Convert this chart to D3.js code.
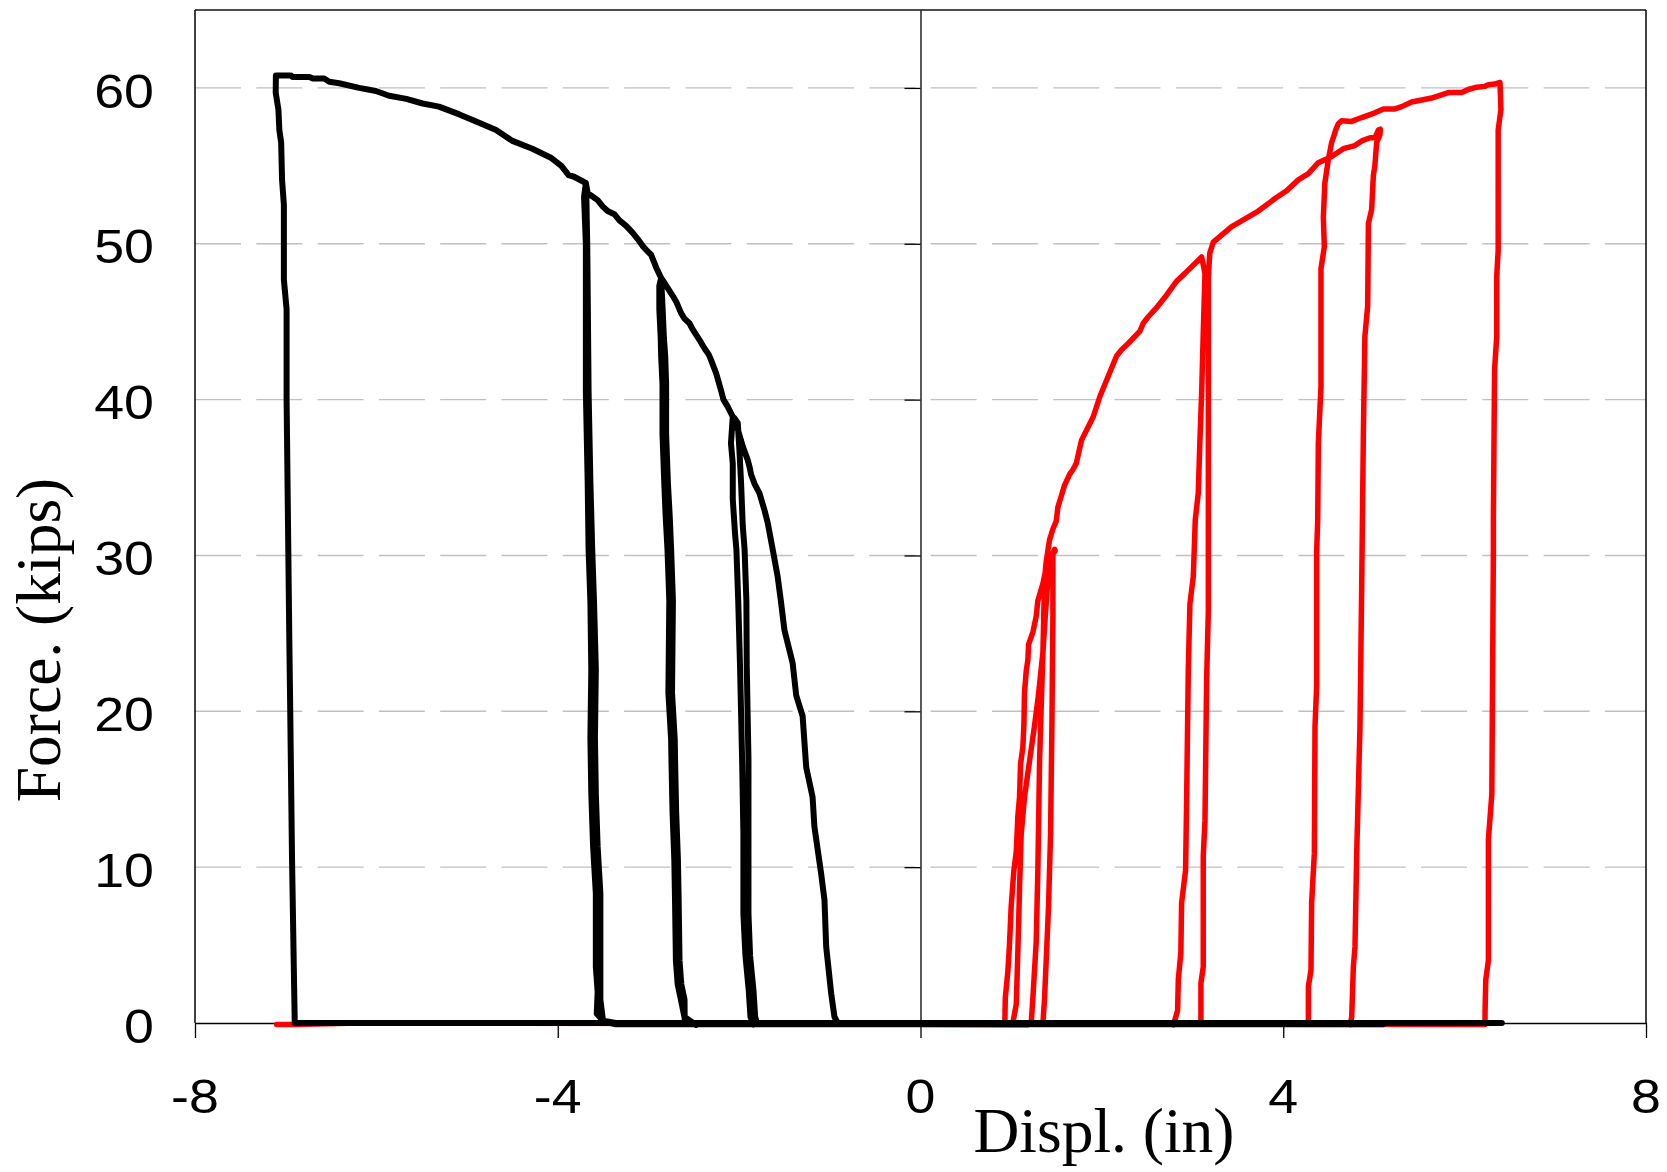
<!DOCTYPE html>
<html><head><meta charset="utf-8">
<script src="https://cdn.jsdelivr.net/npm/d3@7"></script>
<style>html,body{margin:0;padding:0;background:#fff;} svg{display:block}</style>
</head><body><svg id="chart" width="1667" height="1172"></svg>
<script>
// ---------- tick values ----------
const xTicks = [-8, -4, 0, 4, 8];
const yTicks = [0, 10, 20, 30, 40, 50, 60];
const gridValues = [10, 20, 30, 40, 50, 60];
const xTitle = "Displ. (in)";
const yTitle = "Force. (kips)";

// ---------- black series (negative direction) [displ, force] ----------
const blackLoadToA = [[-0.912,0],[-0.949,0.4],[-0.985,1.9],[-1.04,4.9],[-1.059,7.9],[-1.096,9.6],[-1.17,12.6],[-1.19,14.5],[-1.26,16.4],[-1.30,19.7],[-1.37,21.0],[-1.41,23.1],[-1.50,25.2],[-1.54,27.1],[-1.574,28.6],[-1.63,30.4],[-1.685,32.1],[-1.72,32.9],[-1.776,34.0],[-1.83,34.6],[-1.868,35.2],[-1.886,35.7],[-1.904,36.1],[-1.96,37.0],[-2.015,38.1],[-2.05,38.6],[-2.07,38.9]];
const blackUnloadA = [[-2.09,37.2],[-2.07,35.9],[-2.07,33.6],[-2.045,31.4],[-2.03,30.4],[-2.01,27.1],[-1.99,22.9],[-1.967,16.9],[-1.953,12.2],[-1.953,7.0],[-1.93,4.3],[-1.894,2.1],[-1.875,0.4],[-1.84,-0.1],[-1.80,0]];
const blackZeroA = [[1.50,0],[1.50,-0.08],[-1.80,-0.08]];
const blackReloadA = [[-1.823,0.4],[-1.842,2.1],[-1.879,4.3],[-1.897,7.0],[-1.897,12.2],[-1.897,16.9],[-1.916,22.9],[-1.92,27.1],[-1.94,30.4],[-1.96,31.9],[-1.978,34.6],[-1.997,36.8],[-2.015,38.5],[-2.05,38.8]];
const blackAtoB = [[-2.07,38.9],[-2.126,39.55],[-2.173,40.0],[-2.2,40.6],[-2.254,41.7],[-2.31,42.55],[-2.336,42.9],[-2.383,43.3],[-2.438,43.84],[-2.512,44.5],[-2.548,44.9],[-2.603,45.2],[-2.64,45.55],[-2.695,46.3],[-2.732,46.66],[-2.787,47.16],[-2.824,47.5],[-2.86,47.8]];
const blackUnloadB = [[-2.88,47.3],[-2.88,45.8],[-2.865,44.0],[-2.86,42.8],[-2.845,41.0],[-2.845,37.8],[-2.825,34.6],[-2.81,32.5],[-2.79,30.4],[-2.77,27.1],[-2.78,21.2],[-2.75,18.2],[-2.745,16.5],[-2.734,13.5],[-2.715,10.5],[-2.708,8.3],[-2.697,4.0],[-2.678,2.5],[-2.642,1.5],[-2.604,0.4],[-2.474,-0.13],[-2.44,0]];
const blackZeroB = [[3.2,0],[3.2,-0.08],[-2.60,-0.08]];
const blackReloadB = [[-2.60,0],[-2.602,1.5],[-2.638,2.5],[-2.657,4.0],[-2.668,8.3],[-2.675,10.5],[-2.694,13.5],[-2.705,16.5],[-2.71,18.2],[-2.74,21.2],[-2.73,27.1],[-2.75,30.4],[-2.765,32.5],[-2.785,34.6],[-2.805,37.8],[-2.805,41.0],[-2.815,42.8],[-2.83,44.0],[-2.845,46.0],[-2.86,47.8]];
const blackBtoC = [[-2.916,48.5],[-2.971,49.3],[-3.008,49.5],[-3.055,49.8],[-3.118,50.3],[-3.173,50.7],[-3.246,51.15],[-3.32,51.5],[-3.376,51.9],[-3.45,52.1],[-3.505,52.4],[-3.56,52.8],[-3.633,53.1],[-3.67,53.25],[-3.69,53.9]];
const blackUnloadC = [[-3.71,53.0],[-3.70,51.5],[-3.69,50.0],[-3.69,47.1],[-3.69,40.5],[-3.67,34.7],[-3.66,30.4],[-3.64,27.0],[-3.63,22.7],[-3.64,18.3],[-3.63,14.7],[-3.61,11.3],[-3.58,8.3],[-3.58,3.6],[-3.56,2.0],[-3.57,0.6],[-3.50,0.15],[-3.36,0]];
const blackZeroC = [[5.1,0],[5.1,-0.08],[-3.36,-0.08]];
const blackReloadC = [[-3.50,0.1],[-3.53,1.5],[-3.53,3.6],[-3.53,8.3],[-3.56,11.3],[-3.58,14.7],[-3.59,18.3],[-3.58,22.7],[-3.60,27.0],[-3.62,30.4],[-3.64,34.7],[-3.66,40.5],[-3.67,47.1],[-3.675,50.0],[-3.68,51.5],[-3.685,53.3],[-3.69,53.9]];
const blackCtoD = [[-3.82,54.3],[-3.88,54.4],[-3.96,55.0],[-4.07,55.5],[-4.28,56.1],[-4.50,56.6],[-4.68,57.3],[-4.90,57.85],[-5.085,58.3],[-5.31,58.8],[-5.49,59.0],[-5.67,59.3],[-5.86,59.5],[-6.005,59.8],[-6.19,60.0],[-6.41,60.3],[-6.52,60.4],[-6.575,60.6],[-6.70,60.6],[-6.74,60.7],[-6.924,60.7],[-6.942,60.8],[-7.108,60.8]];
const blackUnloadD = [[-7.11,59.7],[-7.08,58.6],[-7.07,57.3],[-7.05,56.5],[-7.04,54.1],[-7.02,52.5],[-7.02,47.7],[-6.99,45.8],[-6.99,40.0],[-6.98,34.9],[-6.96,24.6],[-6.95,20.1],[-6.93,10.5],[-6.91,3.4],[-6.90,0]];
const blackZeroEnd = [[6.41,0]];

// ---------- red series (positive direction) [displ, force] ----------
const redLoad1 = [[1.018,0],[1.056,1.2],[1.074,4.7],[1.092,8.6],[1.11,12.1],[1.147,14.5],[1.202,16.8],[1.258,19.1],[1.30,21.0],[1.35,23.8],[1.376,26.1],[1.405,28.5],[1.442,29.9],[1.478,30.4]];
const redUnload1 = [[1.485,30.3],[1.46,30.1],[1.46,26.1],[1.449,19.1],[1.434,12.1],[1.412,7.5],[1.386,4.0],[1.368,1.6],[1.35,0]];
const redZero1 = [[-1.8,0],[0.93,0]];
const redLoad2 = [[0.935,1.6],[0.963,3.3],[0.982,5.1],[1.0,7.5],[1.03,9.8],[1.056,11.0],[1.074,13.3],[1.092,14.5],[1.103,16.6],[1.129,17.7],[1.14,19.1],[1.147,21.2],[1.166,22.6],[1.184,23.3],[1.192,24.3],[1.24,25.1],[1.276,26.1],[1.294,27.1],[1.35,28.2],[1.375,28.9],[1.386,29.6]];
const redUnload2 = [[1.368,28.5],[1.35,23.8],[1.331,20.3],[1.313,16.8],[1.294,9.8],[1.276,5.2],[1.239,1.6],[1.221,0],[1.18,-0.12]];
const redZero2 = [[-2.6,0],[1.221,0]];
const redReload2 = [[1.239,1.6],[1.276,5.2],[1.294,9.8],[1.313,16.8],[1.331,20.3],[1.35,23.8],[1.368,28.5],[1.386,29.6]];
const redToPeak2 = [[1.423,31.0],[1.46,31.7],[1.497,32.2],[1.515,33.1],[1.552,33.8],[1.588,34.5],[1.644,35.2],[1.68,35.5],[1.717,35.9],[1.776,37.4],[1.905,38.9],[1.978,40.2],[2.07,41.5],[2.162,42.8],[2.217,43.2],[2.29,43.6],[2.42,44.4],[2.456,44.9],[2.51,45.3],[2.603,45.9],[2.713,46.7],[2.824,47.6],[2.916,48.1],[3.10,49.15]];
const redUnloadPeak2 = [[3.137,48.1],[3.118,44.3],[3.10,40.4],[3.08,37.2],[3.063,34.0],[3.03,32.3],[3.008,28.65],[2.971,26.9],[2.953,22.7],[2.934,14.1],[2.923,9.8],[2.879,7.7],[2.871,4.5],[2.843,2.8],[2.835,0.8],[2.79,-0.12],[2.80,0]];
const redZero3 = [[-2.7,0],[3.092,0]];
const redReload3 = [[3.092,0.6],[3.092,2.55],[3.118,3.6],[3.118,10.7],[3.137,13.0],[3.155,22.0],[3.174,26.5],[3.174,32.3],[3.174,47.9],[3.19,49.4],[3.229,50.1]];
const redToPeak3 = [[3.431,51.1],[3.522,51.4],[3.725,52.1],[3.909,52.9],[4.037,53.4],[4.166,54.1],[4.277,54.5],[4.387,55.2],[4.534,55.6],[4.663,56.1],[4.79,56.3],[4.865,56.6],[4.957,56.8],[5.01,56.8],[5.05,57.3],[5.07,57.35]];
const redUnloadPeak3 = [[5.067,57.0],[5.03,56.5],[5.01,55.0],[4.994,54.4],[4.975,52.2],[4.939,51.3],[4.931,46.0],[4.90,44.05],[4.895,42.1],[4.884,38.1],[4.873,32.3],[4.865,28.0],[4.846,19.0],[4.81,10.9],[4.791,4.9],[4.773,3.6],[4.755,0.4],[4.74,-0.12],[4.75,0]];
const redZero4 = [[-3.6,0],[4.277,0]];
const redReload4 = [[4.277,0.4],[4.277,2.33],[4.306,3.4],[4.313,7.7],[4.343,10.9],[4.35,19.0],[4.368,21.6],[4.368,30.15],[4.38,32.3],[4.387,37.2],[4.416,40.85],[4.416,48.4],[4.453,49.8],[4.442,51.7],[4.459,53.9],[4.497,55.4],[4.534,56.5],[4.563,57.0],[4.578,57.3],[4.607,57.7],[4.644,57.9],[4.754,57.85]];
const redToPeak4 = [[4.865,58.1],[5.01,58.4],[5.104,58.65],[5.232,58.65],[5.306,58.8],[5.416,59.1],[5.637,59.35],[5.82,59.7],[5.968,59.7],[6.04,59.9],[6.133,60.05],[6.225,60.1],[6.262,60.2],[6.335,60.25],[6.39,60.35]];
const redUnloadPeak4 = [[6.40,58.6],[6.37,57.3],[6.37,49.6],[6.354,47.9],[6.354,44.05],[6.33,41.9],[6.317,32.3],[6.317,30.15],[6.30,14.7],[6.262,11.75],[6.262,4.0],[6.233,2.76],[6.225,0.6],[6.225,-0.1]];
const redZeroEnd = [[-6.2,0],[-6.9,-0.1],[-7.1,-0.1]];

const blackSeries = [].concat(blackLoadToA, blackUnloadA, blackZeroA, blackReloadA, blackAtoB,
  blackUnloadB, blackZeroB, blackReloadB, blackBtoC, blackUnloadC, blackZeroC, blackReloadC,
  blackCtoD, blackUnloadD, blackZeroEnd);
const redSeries = [].concat(redLoad1, redUnload1, redZero1, redLoad2, redUnload2, redZero2, redReload2,
  redToPeak2, redUnloadPeak2, redZero3, redReload3, redToPeak3, redUnloadPeak3, redZero4,
  redReload4, redToPeak4, redUnloadPeak4, redZeroEnd);

// ---------- drawing ----------
const W = 1667, H = 1172;
const plot = {left: 195, right: 1646, top: 10, bottom: 1023};
const svg = d3.select('#chart');
svg.append('rect').attr('width', W).attr('height', H).attr('fill', '#fff');

const x = d3.scaleLinear().domain([-8, 8]).range([plot.left, plot.right]);
const y = d3.scaleLinear().domain([0, 65]).range([plot.bottom, plot.top]);

// gridlines
svg.append('g').selectAll('line').data(gridValues).join('line')
  .attr('x1', plot.left).attr('x2', plot.right)
  .attr('y1', d => y(d)).attr('y2', d => y(d))
  .attr('stroke', '#c0c0c0').attr('stroke-width', 1.4)
  .attr('stroke-dasharray', '46,15.3');

// frame (top, left, right)
const frame = svg.append('g').attr('stroke', '#111').attr('stroke-width', 1.6).attr('fill', 'none');
frame.append('line').attr('x1', x(-8)).attr('x2', x(8)).attr('y1', y(65)).attr('y2', y(65));
frame.append('line').attr('x1', x(-8)).attr('x2', x(-8)).attr('y1', y(65)).attr('y2', y(0));
frame.append('line').attr('x1', x(8)).attr('x2', x(8)).attr('y1', y(65)).attr('y2', y(0));

// y axis through x = 0
const yAxisG = svg.append('g').attr('transform', `translate(${x(0)},0)`)
  .call(d3.axisLeft(y).tickValues(gridValues).tickSize(16).tickSizeOuter(0).tickFormat(''));
yAxisG.selectAll('path,line').attr('stroke', '#000').attr('stroke-width', 1.3);

// x axis through y = 0
const xAxisG = svg.append('g').attr('transform', `translate(0,${y(0)})`)
  .call(d3.axisBottom(x).tickValues(xTicks).tickSize(15).tickSizeOuter(0).tickFormat(''));
xAxisG.selectAll('path,line').attr('stroke', '#000').attr('stroke-width', 1.3);

// tick labels
const tickFont = '"Liberation Sans", Arial, sans-serif';
svg.append('g').selectAll('text').data(yTicks).join('text')
  .attr('transform', d => `translate(154,${y(d) + 19.6}) scale(1.12,1)`)
  .attr('text-anchor', 'end').attr('font-family', tickFont).attr('font-size', 48)
  .attr('fill', '#000').text(d => d);
svg.append('g').selectAll('text').data(xTicks).join('text')
  .attr('transform', d => `translate(${x(d)},1113) scale(1.12,1)`)
  .attr('text-anchor', 'middle').attr('font-family', tickFont).attr('font-size', 48)
  .attr('fill', '#000').text(d => d);

// axis titles
const titleFont = '"Liberation Serif", "Times New Roman", serif';
svg.append('text').attr('x', 1104).attr('y', 1152).attr('text-anchor', 'middle')
  .attr('font-family', titleFont).attr('font-size', 63.5).attr('fill', '#000').text(xTitle);
svg.append('text').attr('transform', 'translate(60,640) rotate(-90)').attr('text-anchor', 'middle')
  .attr('font-family', titleFont).attr('font-size', 63.5).attr('fill', '#000').text(yTitle);

// series
const line = d3.line().x(d => x(d[0])).y(d => y(d[1]));
svg.append('path').datum(redSeries).attr('d', line)
  .attr('fill', 'none').attr('stroke', '#ff0000').attr('stroke-width', 5.5)
  .attr('stroke-linejoin', 'round').attr('stroke-linecap', 'round');
svg.append('path').datum(blackSeries).attr('d', line)
  .attr('fill', 'none').attr('stroke', '#000').attr('stroke-width', 6)
  .attr('stroke-linejoin', 'round').attr('stroke-linecap', 'round');
</script>
</body></html>
